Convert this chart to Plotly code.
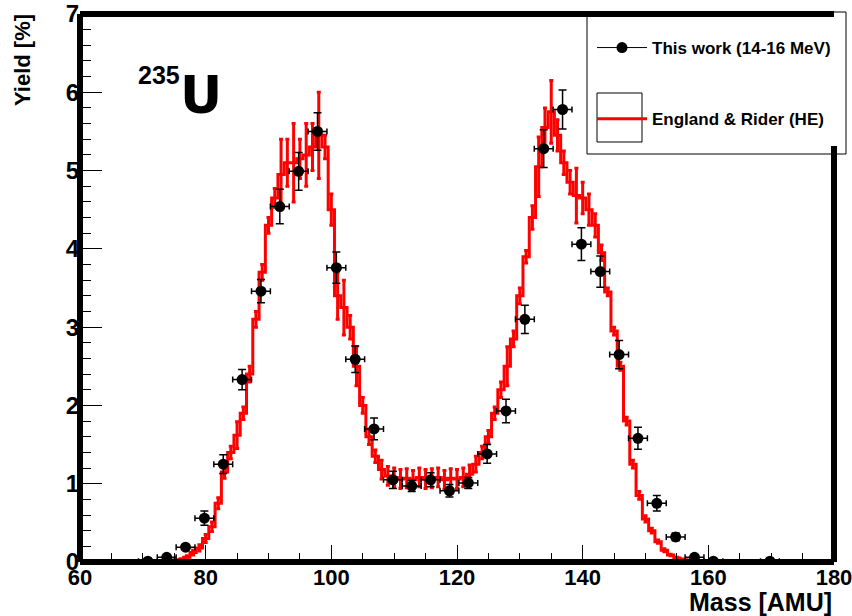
import plotly.graph_objects as go

# ---- "This work (14-16 MeV)" ----
work_mass = [70.8, 73.8, 76.8, 79.8, 82.8, 85.8, 88.8, 91.8, 94.8, 97.8, 100.8, 103.8,
             106.8, 109.8, 112.8, 115.8, 118.8, 121.8, 124.8, 127.8, 130.8, 133.8, 136.8,
             139.8, 142.8, 145.8, 148.8, 151.8, 154.8, 157.8, 160.8, 169.8]
work_yield = [0.01, 0.06, 0.19, 0.56, 1.25, 2.33, 3.46, 4.54, 4.99, 5.50, 3.76, 2.59,
              1.70, 1.05, 0.97, 1.05, 0.91, 1.01, 1.38, 1.93, 3.10, 5.28, 5.78,
              4.06, 3.71, 2.65, 1.58, 0.75, 0.32, 0.06, 0.01, 0.01]
work_yerr = [0.01, 0.02, 0.03, 0.09, 0.12, 0.13, 0.15, 0.22, 0.24, 0.24, 0.20, 0.17,
             0.14, 0.11, 0.07, 0.09, 0.08, 0.07, 0.12, 0.15, 0.18, 0.24, 0.25,
             0.21, 0.20, 0.18, 0.14, 0.10, 0.05, 0.02, 0.01, 0.01]
work_xerr = [1.5] * len(work_mass)

# ---- "England & Rider (HE)" ----
er_mass = list(range(66, 173))
er_yield = [0.005, 0.005, 0.005, 0.005, 0.005, 0.008, 0.01, 0.01, 0.012, 0.02,   # 66-75
            0.03, 0.06, 0.12, 0.18, 0.30, 0.45, 0.75, 1.15, 1.40, 1.62,          # 76-85
            1.90, 2.40, 3.10, 3.70, 4.30, 4.65, 4.95, 5.10, 5.10, 5.15,          # 86-95
            5.20, 5.30, 5.45, 5.30, 4.50, 3.40, 3.25, 3.00, 2.50, 2.00,          # 96-105
            1.60, 1.35, 1.18, 1.10, 1.08, 1.06, 1.07, 1.05, 1.08, 1.06,          # 106-115
            1.07, 1.08, 1.05, 1.07, 1.06, 1.08, 1.12, 1.25, 1.40, 1.60,          # 116-125
            1.90, 2.20, 2.50, 2.85, 3.40, 3.90, 4.40, 5.05, 5.55, 5.75,          # 126-135
            5.45, 5.10, 4.85, 4.68, 4.65, 4.50, 4.30, 3.95, 3.45, 2.95,          # 136-145
            2.50, 1.80, 1.25, 0.85, 0.55, 0.40, 0.26, 0.15, 0.09, 0.05,          # 146-155
            0.03, 0.02, 0.012, 0.01, 0.008, 0.005, 0.005, 0.005, 0.005, 0.005,   # 156-165
            0.005, 0.005, 0.005, 0.005, 0.005, 0.005, 0.005]                     # 166-172
er_err = [0.003, 0.003, 0.003, 0.003, 0.003, 0.004, 0.005, 0.005, 0.005, 0.008,
          0.01, 0.02, 0.03, 0.04, 0.05, 0.06, 0.07, 0.08, 0.08, 0.17,
          0.08, 0.10, 0.10, 0.10, 0.10, 0.12, 0.45, 0.30, 0.50, 0.25,
          0.40, 0.30, 0.55, 0.15, 0.20, 0.30, 0.35, 0.15, 0.25, 0.10,
          0.10, 0.08, 0.12, 0.12, 0.12, 0.12, 0.12, 0.12, 0.12, 0.12,
          0.12, 0.12, 0.12, 0.12, 0.12, 0.12, 0.12, 0.10, 0.08, 0.08,
          0.08, 0.10, 0.25, 0.10, 0.10, 0.08, 0.15, 0.38, 0.25, 0.40,
          0.20, 0.15, 0.15, 0.35, 0.20, 0.20, 0.15, 0.10, 0.05, 0.05,
          0.05, 0.05, 0.05, 0.05, 0.04, 0.03, 0.02, 0.02, 0.01, 0.01,
          0.008, 0.005, 0.005, 0.005, 0.004, 0.003, 0.003, 0.003, 0.003, 0.003,
          0.003, 0.003, 0.003, 0.003, 0.003, 0.003, 0.003]

x_range = [60, 180]
y_range = [0, 7]

FONT = "Liberation Sans, Arial, Helvetica, sans-serif"

fig = go.Figure()

fig.add_trace(go.Scatter(
    x=er_mass, y=er_yield, mode="lines", name="England & Rider (HE)",
    line=dict(color="#ff0000", width=3, shape="hvh"),
    error_y=dict(type="data", array=er_err, visible=True, color="#ff0000",
                 thickness=3, width=2),
    legendgroup="b", legendrank=2,
))

fig.add_trace(go.Scatter(
    x=work_mass, y=work_yield, mode="markers", name="This work (14-16 MeV)",
    marker=dict(color="black", size=11),
    error_y=dict(type="data", array=work_yerr, visible=True, color="black",
                 thickness=1.5, width=4),
    error_x=dict(type="data", array=work_xerr, visible=True, color="black",
                 thickness=1.5, width=3),
    showlegend=False,
))

# legend entry (line + marker) for this work
fig.add_trace(go.Scatter(
    x=[None], y=[None], mode="lines+markers", name="This work (14-16 MeV)",
    line=dict(color="black", width=1), marker=dict(color="black", size=11),
    legendgroup="a", legendrank=1,
))

L, R, T, B = 80, 18, 14, 54
W, H = 852, 616
pw, ph = W - L - R, H - T - B


def px(x):
    return (x - L) / pw


def py(y):
    return (H - B - y) / ph


shapes = [
    # legend box
    dict(type="rect", xref="paper", yref="paper", x0=px(587), x1=px(846), y0=py(154), y1=py(12),
         line=dict(color="black", width=1), fillcolor="white", layer="above"),
    dict(type="rect", xref="paper", yref="paper", x0=px(597), x1=px(642), y0=py(142), y1=py(93),
         line=dict(color="black", width=1), fillcolor="rgba(0,0,0,0)", layer="above"),
    # frame
    dict(type="line", xref="paper", yref="paper", x0=0, x1=1, y0=0, y1=0,
         line=dict(color="black", width=6), layer="above"),
    dict(type="line", xref="paper", yref="paper", x0=0, x1=0, y0=0, y1=1,
         line=dict(color="black", width=6), layer="above"),
    dict(type="line", xref="paper", yref="paper", x0=0, x1=1, y0=1, y1=1,
         line=dict(color="black", width=6), layer="above"),
    dict(type="line", xref="paper", yref="paper", x0=1, x1=1, y0=0, y1=py(146),
         line=dict(color="black", width=6), layer="above"),
]

annotations = [
    dict(text="Yield [%]", xref="paper", yref="paper", x=px(22), y=py(12), textangle=-90,
         xanchor="center", yanchor="top", showarrow=False,
         font=dict(family=FONT, size=22, color="black", weight="bold")),
    dict(text="Mass [AMU]", xref="paper", yref="paper", x=px(834), y=py(602),
         xanchor="right", yanchor="middle", showarrow=False,
         font=dict(family=FONT, size=25, color="black", weight="bold")),
    dict(text="235", xref="paper", yref="paper", x=px(136), y=py(75),
         xanchor="left", yanchor="middle", showarrow=False,
         font=dict(family=FONT, size=25, color="black", weight="bold")),
    dict(text="U", xref="paper", yref="paper", x=px(178), y=py(95),
         xanchor="left", yanchor="middle", showarrow=False,
         font=dict(family="DejaVu Sans, " + FONT, size=52, color="black", weight="bold")),
]

fig.update_layout(
    width=W, height=H,
    margin=dict(l=L, r=R, t=T, b=B, pad=0, autoexpand=False),
    paper_bgcolor="white", plot_bgcolor="white",
    font=dict(family=FONT, color="black"),
    shapes=shapes, annotations=annotations,
    showlegend=True,
    legend=dict(xref="container", yref="container", x=592 / W, y=1 - 30 / H,
                xanchor="left", yanchor="top",
                bgcolor="rgba(0,0,0,0)", borderwidth=0,
                traceorder="grouped", tracegroupgap=46, itemwidth=50,
                font=dict(family=FONT, size=17, color="black", weight="bold")),
    xaxis=dict(range=x_range, showgrid=False, zeroline=False, showline=False,
               ticks="inside", ticklen=17, tickwidth=1, tickcolor="black", dtick=20,
               tick0=60, ticklabeloverflow="allow",
               minor=dict(dtick=5, ticks="inside", ticklen=9, tickwidth=1, tickcolor="black"),
               tickfont=dict(family=FONT, size=22, color="black", weight="bold")),
    yaxis=dict(range=y_range, showgrid=False, zeroline=False, showline=False,
               ticks="inside", ticklen=22, tickwidth=1, tickcolor="black", dtick=1,
               minor=dict(dtick=0.2, ticks="inside", ticklen=11, tickwidth=1, tickcolor="black"),
               tickfont=dict(family=FONT, size=24, color="black", weight="bold")),
)

fig.write_html("out.html")
